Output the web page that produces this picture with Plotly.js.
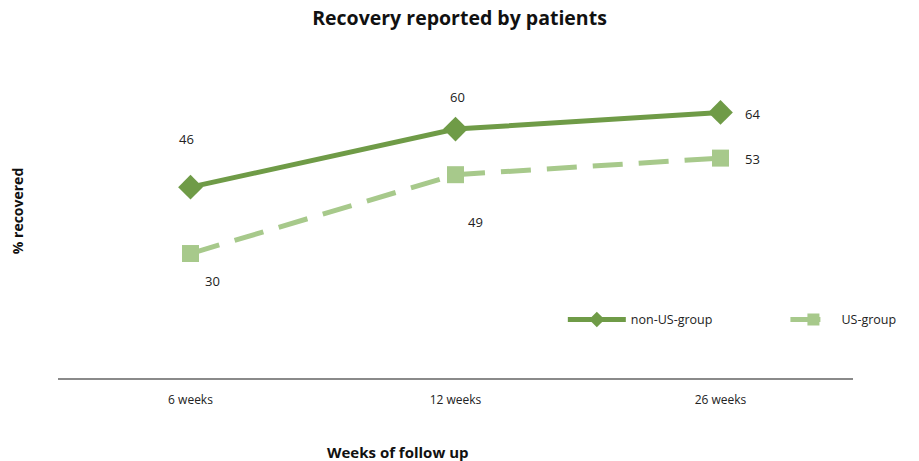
<!DOCTYPE html>
<html>
<head>
<meta charset="utf-8">
<script src="https://cdn.plot.ly/plotly-3.0.1.min.js"></script>
<style>html,body{margin:0;padding:0;background:#fff;}#chart{width:919px;height:461px;}</style>
</head>
<body>
<div id="chart"></div>
<script>
var categories = ["6 weeks", "12 weeks", "26 weeks"];
var nonUS = [46, 60, 64];
var usGroup = [30, 49, 53];

// label offsets (px) for data labels
var nonUSOffsets = [[-4, 48], [2, 32], [32, -2]];
var usOffsets = [[22, -27], [20, -47], [32, -1]];

var darkGreen = "#6f9b47";
var lightGreen = "#a7c98b";
var font = "Open Sans, Noto Sans, sans-serif";

var traces = [
  {
    x: categories, y: nonUS, name: "non-US-group", type: "scatter", mode: "lines+markers",
    line: {color: darkGreen, width: 5},
    marker: {symbol: "diamond", size: 19, color: darkGreen},
    legend: "legend"
  },
  {
    x: categories, y: usGroup, name: "US-group", type: "scatter", mode: "lines+markers",
    line: {color: lightGreen, width: 5, dash: "30px,16px"},
    marker: {symbol: "square", size: 17, color: lightGreen},
    legend: "legend2"
  }
];

var annotations = [];
function addLabels(vals, offs) {
  for (var i = 0; i < vals.length; i++) {
    annotations.push({
      x: categories[i], y: vals[i], xref: "x", yref: "y", text: String(vals[i]),
      showarrow: false, xshift: offs[i][0], yshift: offs[i][1],
      font: {family: font, size: 13, color: "#222"}
    });
  }
}
addLabels(nonUS, nonUSOffsets);
addLabels(usGroup, usOffsets);
annotations.push({
  text: "<b>Weeks of follow up</b>", xref: "paper", yref: "paper", x: 0.428, y: -0.222,
  yanchor: "middle", showarrow: false, font: {family: font, size: 15, color: "#111"}
});

var legendBase = {
  orientation: "h", xanchor: "left", yanchor: "middle", y: 0.174,
  font: {family: font, size: 12.5, color: "#222"}, itemsizing: "constant",
  bgcolor: "rgba(0,0,0,0)", xref: "paper", yref: "paper"
};

var layout = {
  width: 919, height: 461,
  margin: {l: 58, r: 66, t: 44, b: 83},
  paper_bgcolor: "#fff", plot_bgcolor: "#fff",
  title: {text: "<b>Recovery reported by patients</b>", x: 0.5, xref: "container", y: 0.961, yanchor: "middle",
          font: {family: font, size: 19.5, color: "#111"}},
  xaxis: {
    type: "category", range: [-0.5, 2.5], showgrid: false, zeroline: false,
    showline: true, linecolor: "#8a8a8a", linewidth: 2, ticks: "", ticklabelstandoff: 10,
    tickfont: {family: font, size: 12, color: "#222"}
  },
  yaxis: {
    range: [0, 80.5], showgrid: false, zeroline: false, showline: false, showticklabels: false, ticks: "",
    title: {text: "<b>% recovered</b>", standoff: 30, font: {family: font, size: 14, color: "#111"}}
  },
  showlegend: true,
  legend: Object.assign({}, legendBase, {x: 0.635, itemwidth: 58}),
  legend2: Object.assign({}, legendBase, {x: 0.915, itemwidth: 46}),
  annotations: annotations
};

Plotly.newPlot("chart", traces, layout, {displayModeBar: false, staticPlot: true});
</script>
</body>
</html>
